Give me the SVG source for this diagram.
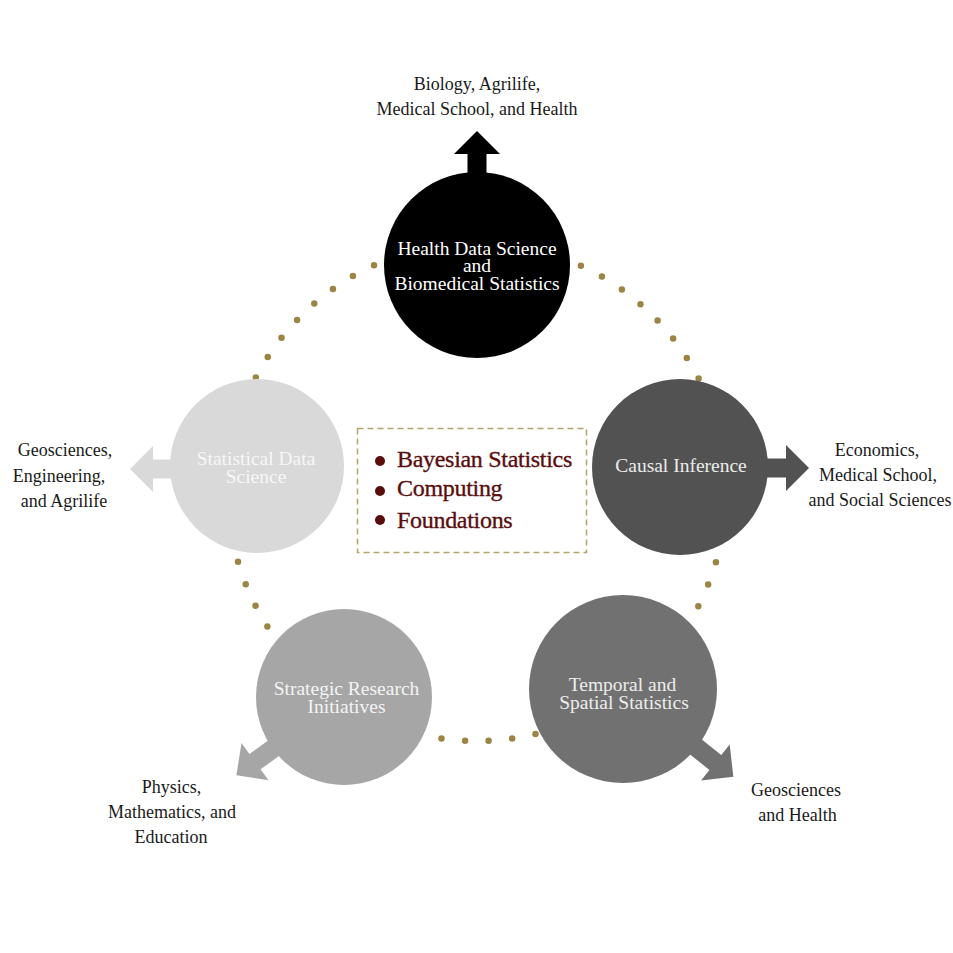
<svg xmlns="http://www.w3.org/2000/svg" width="953" height="953" viewBox="0 0 953 953">
<style>
.lbl{font-family:"Liberation Serif","Times New Roman",serif;font-size:18px;fill:#1a1a1a;text-anchor:middle}
.nt{font-family:"Liberation Serif","Times New Roman",serif;font-size:19.5px;text-anchor:middle}
.ct{font-family:"Liberation Serif","Times New Roman",serif;font-size:24px;fill:#5a0d0d;stroke:#5a0d0d;stroke-width:0.35;letter-spacing:-0.3px}
</style>
<rect width="953" height="953" fill="#ffffff"/>
<g id="connectors">
<circle cx="477" cy="492" r="249" fill="none" stroke="#9c8544" stroke-width="6.5" stroke-linecap="round" stroke-dasharray="0 23.705"/>
</g>
<g id="center-box">
<rect x="357.5" y="428.5" width="229" height="124" fill="none" stroke="#b5a36e" stroke-width="1.5" stroke-dasharray="6 4"/>
<circle cx="380" cy="461" r="5" fill="#5a0d0d"/>
<circle cx="380" cy="491" r="5" fill="#5a0d0d"/>
<circle cx="380" cy="520" r="5" fill="#5a0d0d"/>
<text class="ct" x="397" y="467">Bayesian Statistics</text>
<text class="ct" x="397" y="496">Computing</text>
<text class="ct" x="397" y="528">Foundations</text>
</g>
<g id="node-health">
<path d="M0,-9.5 L111,-9.5 L111,-23 L134,0 L111,23 L111,9.5 L0,9.5 Z" fill="#000000" transform="translate(477,265) rotate(-90)"/>
<circle cx="477" cy="265" r="93" fill="#000000"/>
<text class="nt" fill="#ffffff" x="477" y="255">Health Data Science</text>
<text class="nt" fill="#ffffff" x="477" y="272">and</text>
<text class="nt" fill="#ffffff" x="477" y="290">Biomedical Statistics</text>
<text class="lbl" x="477" y="90">Biology, Agrilife,</text>
<text class="lbl" x="477" y="115">Medical School, and Health</text>
</g>
<g id="node-causal">
<path d="M0,-9.5 L106,-9.5 L106,-23 L129,0 L106,23 L106,9.5 L0,9.5 Z" fill="#525252" transform="translate(680,468)"/>
<circle cx="680" cy="467" r="88" fill="#525252"/>
<text class="nt" fill="#ececec" x="681" y="472">Causal Inference</text>
<text class="lbl" x="877" y="456">Economics,</text>
<text class="lbl" x="878" y="481">Medical School,</text>
<text class="lbl" x="880" y="506">and Social Sciences</text>
</g>
<g id="node-temporal">
<path d="M0,-9.5 L118,-9.5 L118,-23 L141,0 L118,23 L118,9.5 L0,9.5 Z" fill="#717171" transform="translate(623,689) rotate(38.5)"/>
<circle cx="623" cy="689" r="94" fill="#717171"/>
<text class="nt" fill="#eeeeee" x="622.5" y="691">Temporal and</text>
<text class="nt" fill="#eeeeee" x="624" y="709">Spatial Statistics</text>
<text class="lbl" x="796" y="796">Geosciences</text>
<text class="lbl" x="797.5" y="821">and Health</text>
</g>
<g id="node-strategic">
<path d="M0,-9.5 L110,-9.5 L110,-23 L133,0 L110,23 L110,9.5 L0,9.5 Z" fill="#a6a6a6" transform="translate(344,697) rotate(144)"/>
<circle cx="344" cy="697" r="88" fill="#a6a6a6"/>
<text class="nt" fill="#f4f4f4" x="346.5" y="695">Strategic Research</text>
<text class="nt" fill="#f4f4f4" x="346.5" y="713">Initiatives</text>
<text class="lbl" x="171.5" y="793">Physics,</text>
<text class="lbl" x="172" y="818">Mathematics, and</text>
<text class="lbl" x="171" y="843">Education</text>
</g>
<g id="node-statistical">
<path d="M0,-9.5 L104,-9.5 L104,-23 L127,0 L104,23 L104,9.5 L0,9.5 Z" fill="#d9d9d9" transform="translate(257,469) rotate(180)"/>
<circle cx="257" cy="466" r="87" fill="#d9d9d9"/>
<text class="nt" fill="#f7f7f7" x="256" y="465">Statistical Data</text>
<text class="nt" fill="#f7f7f7" x="256" y="483">Science</text>
<text class="lbl" x="65" y="456">Geosciences,</text>
<text class="lbl" x="59" y="482">Engineering,</text>
<text class="lbl" x="64" y="507">and Agrilife</text>
</g>
</svg>
